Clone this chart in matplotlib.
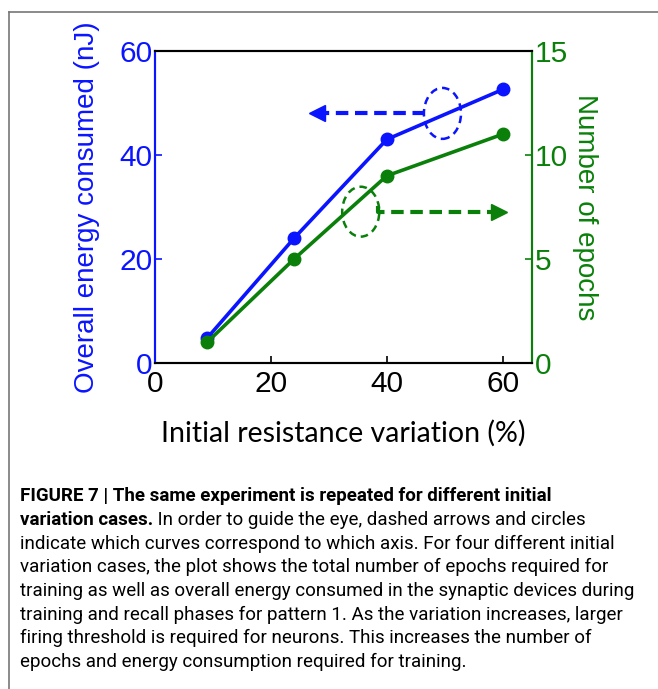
import matplotlib
matplotlib.use("Agg")
import matplotlib.pyplot as plt
from matplotlib import font_manager
from matplotlib.patches import Ellipse
from matplotlib.lines import Line2D

# data
variation = [9, 24, 40, 60]           # initial resistance variation (%)
energy = [4.8, 24.0, 43.0, 52.6]      # overall energy consumed (nJ)
epochs = [1, 5, 9, 11]                # number of epochs

x_ticks = [0, 20, 40, 60]
energy_ticks = [0, 20, 40, 60]
epoch_ticks = [0, 5, 10, 15]

caption_bold_1 = "FIGURE 7 | The same experiment is repeated for different initial"
caption_bold_2 = "variation cases."
caption_rest_2 = " In order to guide the eye, dashed arrows and circles"
caption_lines = [
    "indicate which curves correspond to which axis. For four different initial",
    "variation cases, the plot shows the total number of epochs required for",
    "training as well as overall energy consumed in the synaptic devices during",
    "training and recall phases for pattern 1. As the variation increases, larger",
    "firing threshold is required for neurons. This increases the number of",
    "epochs and energy consumption required for training.",
]

BLUE = "#0a14ff"
GREEN = "#0a800a"

W, H = 658, 689
fig = plt.figure(figsize=(W / 100, H / 100), dpi=100)
fig.patch.set_facecolor("white")
renderer = fig.canvas.get_renderer()

available = {f.name for f in font_manager.fontManager.ttflist}
cap_font = "Liberation Sans Narrow" if "Liberation Sans Narrow" in available else "Roboto"
plot_font = "Liberation Sans"
xlab_font = "Lato"

def px(x, y):
    return x / W, 1 - y / H

# border of the figure panel
fig.add_artist(Line2D([9 / W, 9 / W], [0, 1 - 12 / H], color="#777777", lw=1.2))
fig.add_artist(Line2D([9 / W, 1], [1 - 12 / H, 1 - 12 / H], color="#777777", lw=1.2))

l, r, t, b = 155, 531.7, 51, 363
ax = fig.add_axes([l / W, 1 - b / H, (r - l) / W, (b - t) / H])
ax2 = ax.twinx()

ax.plot(variation, energy, color=BLUE, lw=2.6, marker="o", ms=9, zorder=3)
ax2.plot(variation, epochs, color=GREEN, lw=2.6, marker="o", ms=9, zorder=3)

ax.set_xlim(0, 65)
ax.set_ylim(0, 60)
ax2.set_ylim(0, 15)
ax.set_xticks(x_ticks)
ax.set_yticks(energy_ticks)
ax2.set_yticks(epoch_ticks)

for a in (ax, ax2):
    for s in a.spines.values():
        s.set_linewidth(1.5)
        s.set_color("black")
ax2.spines["left"].set_color(BLUE)
ax2.spines["right"].set_color(GREEN)
ax.spines["left"].set_color(BLUE)
ax.spines["right"].set_color(GREEN)

ax.tick_params(axis="x", direction="in", length=5, width=1.2, colors="black",
               labelsize=21.5, pad=5)
ax.tick_params(axis="y", direction="in", length=5, width=1.2, colors=BLUE,
               labelsize=21.5, pad=2)
ax2.tick_params(axis="y", direction="in", length=5, width=1.2, colors=GREEN,
                labelsize=21.5, pad=2)
for lab in ax.get_xticklabels() + ax.get_yticklabels() + ax2.get_yticklabels():
    lab.set_fontfamily(plot_font)

ax.set_ylabel("Overall energy consumed (nJ)", color=BLUE, fontsize=20,
              family=plot_font, labelpad=14)
ax2.set_ylabel("Number of epochs", color=GREEN, fontsize=20, family=plot_font,
               rotation=-90, labelpad=22)
ax.set_xlabel("Initial resistance variation (%)", fontsize=20.5, family=xlab_font,
              labelpad=16)

# guide-the-eye circles and dashed arrows (left-axis data units)
ax.add_patch(Ellipse((49.6, 48.0), 6.4, 9.8, fill=False, ec=BLUE, lw=1.8,
                     ls=(0, (3, 2)), zorder=4))
ax.plot([46.6, 28.5], [48.1, 48.1], color=BLUE, lw=3, ls=(0, (3, 1.6)), zorder=4)
ax.plot([28.0], [48.1], marker="<", color=BLUE, ms=12, zorder=4)

ax.add_patch(Ellipse((35.5, 29.1), 6.4, 9.6, fill=False, ec=GREEN, lw=1.8,
                     ls=(0, (3, 2)), zorder=4))
ax.plot([38.5, 38.5, 58.8], [30.1, 29.1, 29.1], color=GREEN, lw=3,
        ls=(0, (3, 1.6)), zorder=4)
ax.plot([59.4], [29.1], marker=">", color=GREEN, ms=12, zorder=4)

# caption: size chosen so the widest line spans the same width as the original
probe = fig.text(0, 0, caption_lines[2], family=cap_font, fontsize=10)
probe_w = probe.get_window_extent(renderer).width
probe.remove()
cap_size = 10 * 614 / probe_w

line_y = [501, 525, 549, 572, 596, 620, 643, 667]
fig.text(*px(20, line_y[0]), caption_bold_1, family=cap_font, weight="bold",
         fontsize=cap_size, va="baseline")
tb = fig.text(*px(20, line_y[1]), caption_bold_2, family=cap_font, weight="bold",
              fontsize=cap_size, va="baseline")
x1 = tb.get_window_extent(renderer).x1
fig.text(x1 / W, 1 - line_y[1] / H, caption_rest_2, family=cap_font,
         fontsize=cap_size, va="baseline")
for i, line in enumerate(caption_lines):
    fig.text(*px(20, line_y[i + 2]), line, family=cap_font, fontsize=cap_size,
             va="baseline")

fig.savefig("out.png", dpi=100)
